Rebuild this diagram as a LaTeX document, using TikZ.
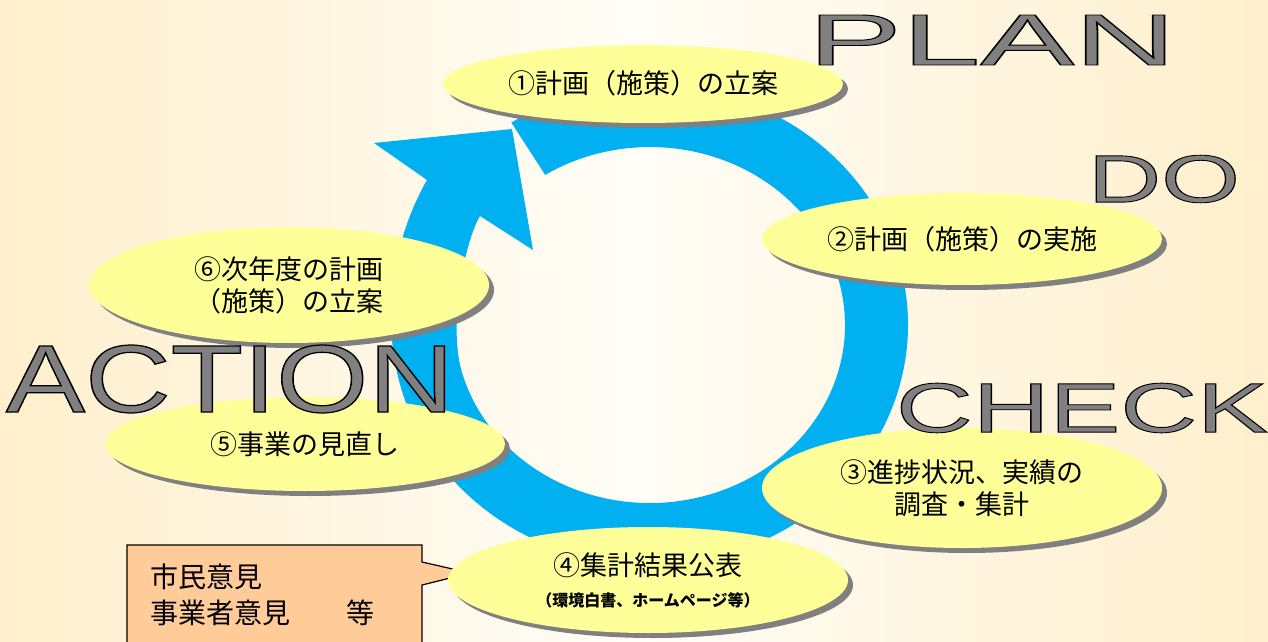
\documentclass[tikz,border=0pt]{standalone}
\usepackage{fontspec}
\usepackage{graphicx}
\usepackage{xcolor}
\usepackage{tikz}
\usetikzlibrary{
    positioning,
    shapes.geometric,
    shadows,
}
\newfontfamily\jpfont{Noto Sans CJK JP}
\newfontfamily\wordfont{Liberation Sans}
\definecolor{bgedge}{RGB}{255,239,204}
\definecolor{bgmid}{RGB}{255,253,247}
\definecolor{ringblue}{RGB}{0,176,240}
\definecolor{stageyellow}{RGB}{255,255,153}
\definecolor{shadowgray}{RGB}{128,128,128}
\definecolor{wordgray}{RGB}{128,128,128}
\definecolor{noteorange}{RGB}{255,204,153}
% gray letters with a thin black outline
\newcommand{\outlined}[1]{\special{pdf:literal direct 2 Tr 0 G 0.9 w}#1\special{pdf:literal direct 0 Tr}}
\tikzset{
    % Stage ellipses
    stage/.style={ellipse, fill=stageyellow, inner sep=0pt, minimum width=400pt,
                  align=center, font=\jpfont\fontsize{27}{32}\selectfont,
                  drop shadow={shadow xshift=5pt, shadow yshift=-5pt, fill=shadowgray, opacity=1}},
    % Big words
    bigword/.style={inner sep=0pt, text=wordgray, font=\wordfont\fontsize{70}{70}\selectfont},
    % Note box text
    note text/.style={anchor=west, inner sep=0pt, font=\jpfont\fontsize{28}{32}\selectfont},
}

\begin{document}
\begin{tikzpicture}[x=1pt, y=1pt,
    ring/.style={fill=ringblue},
    note/.style={fill=noteorange, draw=black, line width=1.2pt},
]
    % Background
    \useasboundingbox (0,0) rectangle (1268,641);
    \clip (0,0) rectangle (1268,641);
    \shade[left color=bgedge, right color=bgedge, middle color=bgmid] (0,0) rectangle (1268,641);

    % Ring arrow
    \path[ring] (650,316) ++(122.5:258 and 240)
        arc[start angle=122.5, end angle=-165, x radius=258, y radius=240]
        .. controls (381,321) and (392,400) .. (427,461)
        -- (374,498) -- (512,512) -- (533,391) -- (480,425)
        .. controls (465,400) and (448,318) .. (461.6,269.9)
        arc[start angle=-165, end angle=122.5, x radius=195, y radius=178] -- cycle;

    % Note box
    \draw[note] (127,96) -- (422,96) -- (422,79) -- (470,68) -- (422,56)
        -- (422,-20) -- (127,-20) -- cycle;
    \node[note text] (citizen) at (150,64) {市民意見};
    \node[note text] (business) at (150,28) {事業者意見　　等};

    % Stages
    \node[stage, minimum height=78pt] (plan) at (643,557) {\raisebox{4pt}{①計画（施策）の立案}};
    \node[stage, minimum height=92pt] (doit) at (962,402) {②計画（施策）の実施};
    \node[stage, minimum height=120pt] (check) at (962,153) {③進捗状況、実績の\\調査・集計};
    \node[stage, minimum height=106pt] (publish) at (648,61)
        {④集計結果公表\\[-1pt]{\bfseries\fontsize{16}{18}\selectfont （環境白書、ホームページ等）}};
    \node[stage, minimum height=94pt] (review) at (305,197) {⑤事業の見直し};
    \node[stage, minimum height=116pt] (nextplan) at (289,356) {⑥次年度の計画\\（施策）の立案};

    % Words
    \node[bigword] (wPlan) at (992,601) {\resizebox{368pt}{50pt}{\outlined{PLAN}}};
    \node[bigword] (wDo) at (1164,462) {\resizebox{152pt}{47pt}{\outlined{DO}}};
    \node[bigword] (wCheck) at (1082,233) {\resizebox{372pt}{49pt}{\outlined{CHECK}}};
    \node[bigword] (wAction) at (230,262) {\resizebox{448pt}{67pt}{\outlined{ACTION}}};
\end{tikzpicture}
\end{document}
